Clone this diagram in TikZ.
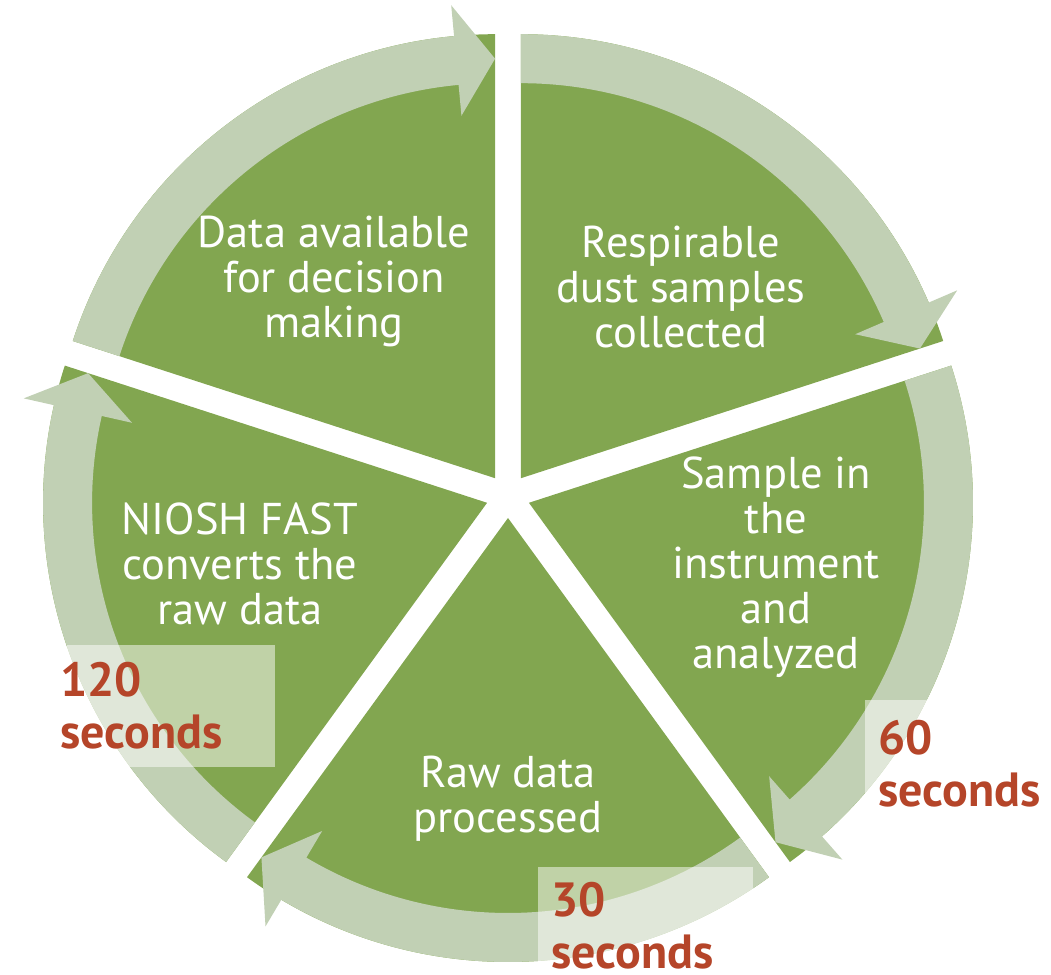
\documentclass[tikz,border=0pt]{standalone}
\usepackage{fontspec}
\setmainfont{PT Sans}
\usepackage{tikz}
\definecolor{leaf}{HTML}{82A650}
\definecolor{pale}{HTML}{C1D0B4}
\definecolor{rust}{HTML}{B54529}

\begin{document}
\begin{tikzpicture}[
  x=1pt,y=1pt,
  slice/.style={fill=leaf,draw=none},
  band/.style={fill=pale,draw=none},
  timebox/.style={fill=white,fill opacity=0.5,draw=none},
  phase/.style={text=white,align=center,inner sep=0pt,font=\fontsize{44.5}{45}\selectfont},
  secs/.style={text=rust,align=left,anchor=west,inner sep=0pt,font=\bfseries\fontsize{48}{52}\selectfont}
]
\useasboundingbox (0,0) rectangle (1051,974);
\coordinate (c) at (508,478);
% five slices pushed out along their bisectors, each with its arrow on top
\foreach \s in {90,18,-54,-126,-198} {
  \pgfmathsetmacro{\b}{\s-36}
  \pgfmathsetmacro{\e}{\s-72}
  \pgfmathsetmacro{\h}{\s-72+5.3}
  \begin{scope}[shift={(c)},shift={(\b:22)}]
    \fill[slice] (0,0) -- (\s:444) arc[start angle=\s,end angle=\e,radius=444] -- cycle;
    \fill[band] (\s:395) -- (\s:444) arc[start angle=\s,end angle=\h,radius=444]
      -- (\h:475) -- (\e:419.5) -- (\h:364) -- (\h:395)
      arc[start angle=\h,end angle=\s,radius=395] -- cycle;
  \end{scope}
}
% light boxes behind the timings
\fill[timebox] (67,207) rectangle (275,329);
\fill[timebox] (865,152) rectangle (1051,274);
\fill[timebox] (538,0) rectangle (753,107);
\node[phase] (collect) at (681,687) {Respirable\\dust samples\\collected};
\node[phase] (analyse) at (776,407) {Sample in\\the\\instrument\\and\\analyzed};
\node[phase] (process) at (508,175) {Raw data\\processed};
\node[phase] (convert) at (240,410) {NIOSH FAST\\converts the\\raw data};
\node[phase] (decide)  at (334,693) {Data available\\for decision\\making};
\node[secs] (t120) at (60,268)  {120\\seconds};
\node[secs] (t60)  at (878,210) {60\\seconds};
\node[secs] (t30)  at (551,48) {30\\seconds};
\end{tikzpicture}
\end{document}
